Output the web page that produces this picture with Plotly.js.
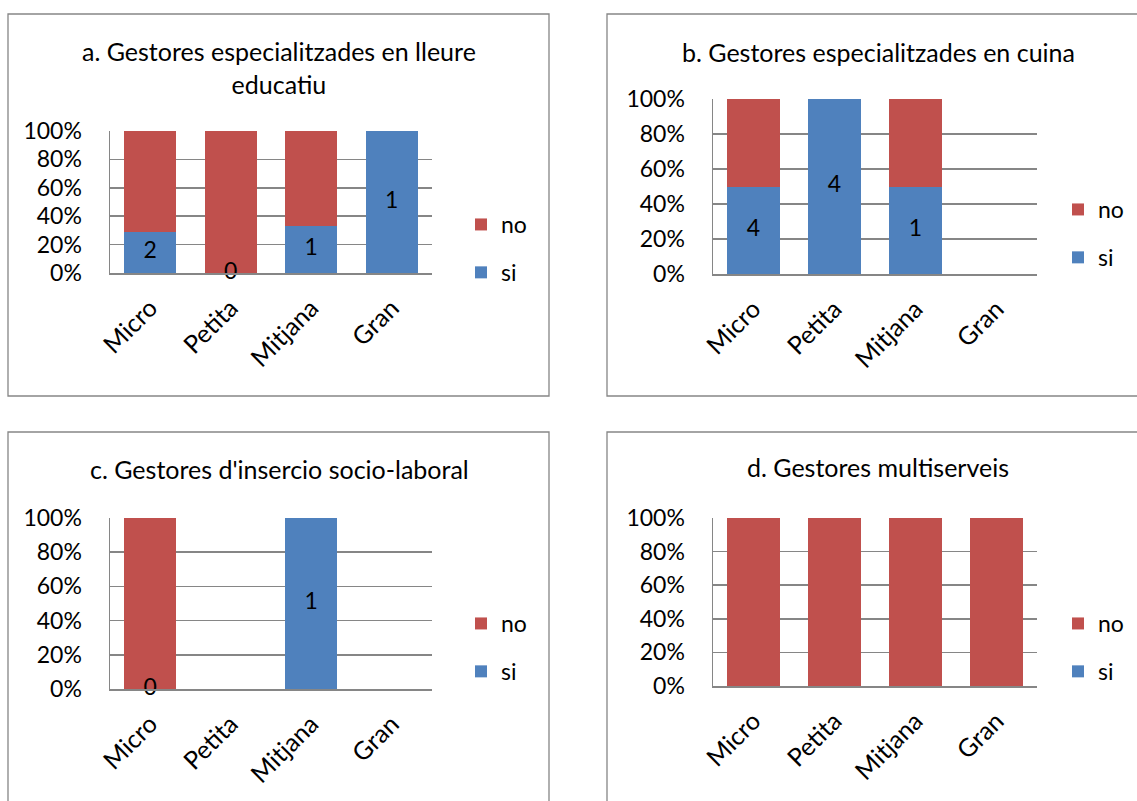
<!DOCTYPE html>
<html><head><meta charset="utf-8">
<script src="https://cdn.plot.ly/plotly-3.0.1.min.js"></script>
<style>html,body{margin:0;padding:0;background:#fff}#chart{width:1137px;height:801px}</style>
</head><body><div id="chart"></div>
<script>
// ---- data ----
const categories = ['Micro', 'Petita', 'Mitjana', 'Gran'];
const seriesNames = ['si', 'no'];
const titleA = 'a. Gestores especialitzades en lleure<br>educatiu';
const titleB = 'b. Gestores especialitzades en cuina';
const titleC = "c. Gestores d'insercio socio-laboral";
const titleD = 'd. Gestores multiserveis';
// counts (si shown as data labels; no estimated from bar shares)
const siA = [2, 0, 1, 1];
const noA = [5, 1, 2, 0];
const siB = [4, 4, 1, null];
const noB = [4, 0, 1, null];
const siC = [0, null, 1, null];
const noC = [1, null, 0, null];
const siD = [null, null, null, null];
const noD = [1, 1, 1, 1];
const yTicks = [0, 0.2, 0.4, 0.6, 0.8, 1];

// ---- styling / geometry ----
const W = 1137, H = 801;
const px = x => x / W, py = y => 1 - y / H;
const RED = '#C0504D', BLUE = '#4F81BD', GRID = '#868686';
const FONT = 'Lato, "Open Sans", sans-serif';
const FS = 23, FT = 25, FX = 25;

const panels = [
  {si: siA, no: noA, title: titleA, x: [110, 432], y: [273, 131], tx: 279, ty: 68, leg: [461, 203]},
  {si: siB, no: noB, title: titleB, x: [713, 1037], y: [274, 99], tx: 878, ty: 52, leg: [1058, 188]},
  {si: siC, no: noC, title: titleC, x: [110, 432], y: [689, 518], tx: 279, ty: 469, leg: [461, 602]},
  {si: siD, no: noD, title: titleD, x: [713, 1037], y: [686, 518], tx: 878, ty: 467, leg: [1058, 602]}
];
const frames = [[8, 14, 549, 396], [607, 14, 1160, 396], [8, 432, 549, 820], [607, 432, 1160, 820]];

function share(v, o) {
  if (v === null || v === undefined) return null;
  const t = (v || 0) + (o || 0);
  return t === 0 ? 0 : v / t;
}

const data = [];
const layout = {
  width: W, height: H, margin: {l: 0, r: 0, t: 0, b: 0},
  paper_bgcolor: '#fff', plot_bgcolor: '#fff',
  barmode: 'stack', bargap: 0.35,
  font: {family: FONT, size: FS, color: '#000'},
  showlegend: true, annotations: [], shapes: []
};

panels.forEach((p, i) => {
  const n = i + 1;
  const xa = n === 1 ? 'x' : 'x' + n, ya = n === 1 ? 'y' : 'y' + n;
  const lg = n === 1 ? 'legend' : 'legend' + n;
  const siPct = p.si.map((v, k) => share(v, p.no[k]));
  const noPct = p.no.map((v, k) => share(v, p.si[k]));
  data.push({type: 'bar', name: seriesNames[0], x: categories, y: siPct, xaxis: xa, yaxis: ya,
    marker: {color: BLUE, line: {width: 0}}, legend: lg, legendgroup: 'si' + n, legendrank: 2, hoverinfo: 'skip'});
  data.push({type: 'bar', name: seriesNames[1], x: categories, y: noPct, xaxis: xa, yaxis: ya,
    marker: {color: RED, line: {width: 0}}, legend: lg, legendgroup: 'no' + n, legendrank: 1, hoverinfo: 'skip'});
  // data labels for "si"
  data.push({type: 'scatter', mode: 'text', x: categories, y: siPct.map(v => v === null ? null : v / 2),
    text: p.si.map(v => v === null ? '' : String(v)), textposition: 'middle center',
    textfont: {family: FONT, size: FS, color: '#000'}, xaxis: xa, yaxis: ya,
    showlegend: false, hoverinfo: 'skip', cliponaxis: false});

  layout['xaxis' + (n === 1 ? '' : n)] = {
    domain: [px(p.x[0]), px(p.x[1])], anchor: ya, type: 'category',
    categoryorder: 'array', categoryarray: categories, range: [-0.5, 3.5],
    tickangle: -45, showline: true, linecolor: GRID, linewidth: 1.5, showgrid: false,
    ticks: '', ticklabelstandoff: 9, tickfont: {family: FONT, size: FX, color: '#000'}, fixedrange: true
  };
  layout['yaxis' + (n === 1 ? '' : n)] = {
    domain: [py(p.y[0]), py(p.y[1])], anchor: xa, range: [0, 1], tickvals: yTicks,
    tickformat: '.0%', showgrid: true, gridcolor: GRID, gridwidth: 1.5, zeroline: false,
    showline: true, linecolor: GRID, linewidth: 1.5, ticks: '', ticklabelstandoff: 22,
    tickfont: {family: FONT, size: FS, color: '#000'}, fixedrange: true
  };
  layout[lg] = {
    x: px(p.leg[0]), y: py(p.leg[1]), xanchor: 'left', yanchor: 'top',
    traceorder: 'grouped', tracegroupgap: 15, bgcolor: 'rgba(0,0,0,0)',
    font: {family: FONT, size: FS, color: '#000'}, itemclick: false, itemdoubleclick: false
  };
  layout.annotations.push({
    text: p.title, xref: 'paper', yref: 'paper', x: px(p.tx), y: py(p.ty),
    xanchor: 'center', yanchor: 'middle', showarrow: false,
    font: {family: FONT, size: FT, color: '#000'}
  });
});

frames.forEach(f => layout.shapes.push({
  type: 'rect', xref: 'paper', yref: 'paper', x0: px(f[0]), x1: px(f[2]), y0: py(f[3]), y1: py(f[1]),
  line: {color: GRID, width: 1.3}, fillcolor: 'rgba(0,0,0,0)', layer: 'below'
}));

Plotly.newPlot('chart', data, layout, {displayModeBar: false, staticPlot: true});
</script>
</body></html>
